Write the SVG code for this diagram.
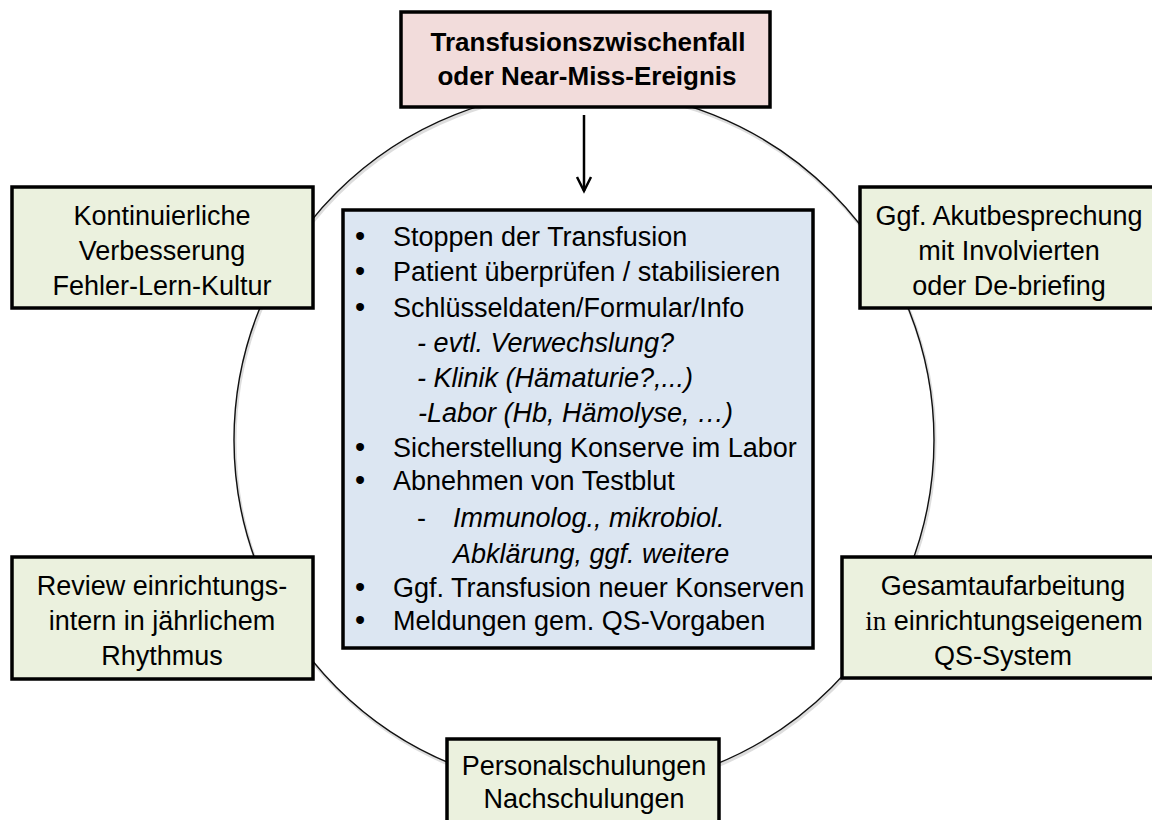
<svg xmlns="http://www.w3.org/2000/svg" width="1152" height="820" viewBox="0 0 1152 820">
<defs>
<style>
.t{font-family:"Liberation Sans",Arial,sans-serif;font-size:27px;fill:#000}
.c{text-anchor:middle}
.b{font-weight:bold;font-size:26px}
.i{font-style:italic}
.bu{font-size:29px}
.box{stroke:#000;stroke-width:3.5}
.g{fill:#ebf1de}
</style>
</defs>
<rect width="1152" height="820" fill="#fff"/>
<g id="connectors">
<circle cx="585" cy="442" r="350" fill="none" stroke="#bbb" stroke-width="3" opacity="0.5"/>
<circle cx="584" cy="440" r="350" fill="none" stroke="#111" stroke-width="1.4"/>
<line x1="584" y1="115" x2="584" y2="191" stroke="#000" stroke-width="2.5"/>
<polyline points="577,177 584,191 591,177" fill="none" stroke="#000" stroke-width="2.5"/>
</g>
<g id="top">
<rect class="box" x="401" y="12" width="369" height="95" fill="#f2dcdb"/>
<text class="t c b" x="588" y="51">Transfusionszwischenfall</text>
<text class="t c b" x="587" y="85">oder Near-Miss-Ereignis</text>
</g>
<g id="center">
<rect class="box" x="343" y="210" width="470" height="438" fill="#dce6f2"/>
<text class="t" y="246"><tspan class="bu" x="355">•</tspan><tspan x="393">Stoppen der Transfusion</tspan></text>
<text class="t" y="281"><tspan class="bu" x="355">•</tspan><tspan x="393">Patient überprüfen / stabilisieren</tspan></text>
<text class="t" y="317"><tspan class="bu" x="355">•</tspan><tspan x="393">Schlüsseldaten/Formular/Info</tspan></text>
<text class="t i" x="417" y="352">- evtl. Verwechslung?</text>
<text class="t i" x="417" y="387">- Klinik (Hämaturie?,...)</text>
<text class="t i" x="418" y="422">-Labor (Hb, Hämolyse, …)</text>
<text class="t" y="457"><tspan class="bu" x="355">•</tspan><tspan x="393">Sicherstellung Konserve im Labor</tspan></text>
<text class="t" y="490"><tspan class="bu" x="355">•</tspan><tspan x="393">Abnehmen von Testblut</tspan></text>
<text class="t" y="527"><tspan x="417">-</tspan><tspan class="i" x="453">Immunolog., mikrobiol.</tspan></text>
<text class="t i" x="453" y="563">Abklärung, ggf. weitere</text>
<text class="t" y="597"><tspan class="bu" x="355">•</tspan><tspan x="393">Ggf. Transfusion neuer Konserven</tspan></text>
<text class="t" y="630"><tspan class="bu" x="355">•</tspan><tspan x="393">Meldungen gem. QS-Vorgaben</tspan></text>
</g>
<g id="kontinuierlich">
<rect class="box g" x="12" y="187" width="301" height="121"/>
<text class="t c" x="162" y="225">Kontinuierliche</text>
<text class="t c" x="162" y="260">Verbesserung</text>
<text class="t c" x="162" y="295">Fehler-Lern-Kultur</text>
</g>
<g id="akut">
<rect class="box g" x="860" y="187" width="310" height="121"/>
<text class="t c" x="1009" y="225">Ggf. Akutbesprechung</text>
<text class="t c" x="1009" y="260">mit Involvierten</text>
<text class="t c" x="1009" y="295">oder De-briefing</text>
</g>
<g id="review">
<rect class="box g" x="12" y="557" width="301" height="122"/>
<text class="t c" x="162" y="595">Review einrichtungs-</text>
<text class="t c" x="162" y="630">intern in jährlichem</text>
<text class="t c" x="162" y="665">Rhythmus</text>
</g>
<g id="gesamt">
<rect class="box g" x="842" y="557" width="330" height="121"/>
<text class="t c" x="1003" y="595">Gesamtaufarbeitung</text>
<text class="t c" x="1004" y="630"><tspan font-family="'Liberation Serif',serif">in</tspan> einrichtungseigenem</text>
<text class="t c" x="1003" y="665">QS-System</text>
</g>
<g id="personal">
<rect class="box g" x="447" y="739" width="272" height="100"/>
<text class="t c" x="584" y="775">Personalschulungen</text>
<text class="t c" x="584" y="808">Nachschulungen</text>
</g>
</svg>
